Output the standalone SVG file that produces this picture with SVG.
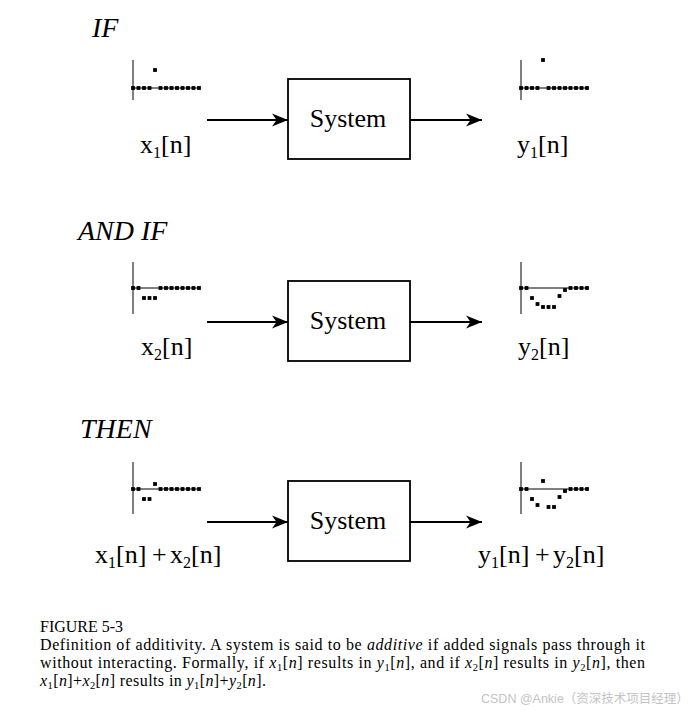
<svg xmlns="http://www.w3.org/2000/svg" width="693" height="713" viewBox="0 0 693 713">
<style>
.hd{font-family:"Liberation Serif","Times New Roman",serif;font-style:italic;font-size:28px;fill:#000}
.lbl{font-family:"Liberation Serif","Times New Roman",serif;font-size:26px;fill:#000}
.sub{font-size:16px}
.box{fill:#fff;stroke:#000;stroke-width:1.8}
.arr{stroke:#000;stroke-width:2;fill:none;marker-end:url(#ah)}
.ax{stroke:#000;stroke-width:1}
.d{fill:#000}
.cap{font-family:"Liberation Serif","Times New Roman",serif;font-size:16px;fill:#000}
.it{font-style:italic}
.cs{font-size:10.5px}
.wm{font-family:"Liberation Sans","Noto Sans CJK SC",sans-serif;font-size:12.5px;fill:#c4c4c4}
</style>
<defs>
<marker id="ah" markerUnits="userSpaceOnUse" markerWidth="16" markerHeight="13" viewBox="0 -6.5 16 13" refX="16" refY="0" orient="auto" overflow="visible">
<path d="M0,-6.5 L16,0 L0,6.5 L4.5,0 Z" fill="#000"/>
</marker>
</defs>

<text class="hd" x="92" y="37">IF</text>
<text class="hd" x="78" y="240">AND IF</text>
<text class="hd" x="80" y="438">THEN</text>

<!-- plots -->
<g id="plot-x1" transform="translate(133,88)">
<line class="ax" x1="0" y1="-28" x2="0" y2="12"/>
<line class="ax" x1="0" y1="0" x2="66" y2="0"/>
<g class="d">
<rect x="-1.9" y="-1.9" width="3.8" height="3.8"/><rect x="3.6" y="-1.9" width="3.8" height="3.8"/><rect x="9.1" y="-1.9" width="3.8" height="3.8"/><rect x="14.6" y="-1.9" width="3.8" height="3.8"/>
<rect x="20.1" y="-19.9" width="3.8" height="3.8"/>
<rect x="25.6" y="-1.9" width="3.8" height="3.8"/><rect x="31.1" y="-1.9" width="3.8" height="3.8"/><rect x="36.6" y="-1.9" width="3.8" height="3.8"/><rect x="42.1" y="-1.9" width="3.8" height="3.8"/><rect x="47.6" y="-1.9" width="3.8" height="3.8"/><rect x="53.1" y="-1.9" width="3.8" height="3.8"/><rect x="58.6" y="-1.9" width="3.8" height="3.8"/><rect x="64.1" y="-1.9" width="3.8" height="3.8"/>
</g>
</g>
<g id="plot-y1" transform="translate(521,88)">
<line class="ax" x1="0" y1="-28" x2="0" y2="12"/>
<line class="ax" x1="0" y1="0" x2="66" y2="0"/>
<g class="d">
<rect x="-1.9" y="-1.9" width="3.8" height="3.8"/><rect x="3.6" y="-1.9" width="3.8" height="3.8"/><rect x="9.1" y="-1.9" width="3.8" height="3.8"/><rect x="14.6" y="-1.9" width="3.8" height="3.8"/>
<rect x="20.1" y="-29.9" width="3.8" height="3.8"/>
<rect x="25.6" y="-1.9" width="3.8" height="3.8"/><rect x="31.1" y="-1.9" width="3.8" height="3.8"/><rect x="36.6" y="-1.9" width="3.8" height="3.8"/><rect x="42.1" y="-1.9" width="3.8" height="3.8"/><rect x="47.6" y="-1.9" width="3.8" height="3.8"/><rect x="53.1" y="-1.9" width="3.8" height="3.8"/><rect x="58.6" y="-1.9" width="3.8" height="3.8"/><rect x="64.1" y="-1.9" width="3.8" height="3.8"/>
</g>
</g>
<g id="plot-x2" transform="translate(133,288)">
<line class="ax" x1="0" y1="-26" x2="0" y2="26"/>
<line class="ax" x1="0" y1="0" x2="66" y2="0"/>
<g class="d">
<rect x="-1.9" y="-1.9" width="3.8" height="3.8"/><rect x="3.6" y="-1.9" width="3.8" height="3.8"/>
<rect x="9.1" y="8.1" width="3.8" height="3.8"/><rect x="14.6" y="8.1" width="3.8" height="3.8"/><rect x="20.1" y="8.1" width="3.8" height="3.8"/>
<rect x="25.6" y="-1.9" width="3.8" height="3.8"/><rect x="31.1" y="-1.9" width="3.8" height="3.8"/><rect x="36.6" y="-1.9" width="3.8" height="3.8"/><rect x="42.1" y="-1.9" width="3.8" height="3.8"/><rect x="47.6" y="-1.9" width="3.8" height="3.8"/><rect x="53.1" y="-1.9" width="3.8" height="3.8"/><rect x="58.6" y="-1.9" width="3.8" height="3.8"/><rect x="64.1" y="-1.9" width="3.8" height="3.8"/>
</g>
</g>
<g id="plot-y2" transform="translate(521,288)">
<line class="ax" x1="0" y1="-26" x2="0" y2="26"/>
<line class="ax" x1="0" y1="0" x2="66" y2="0"/>
<g class="d">
<rect x="-1.9" y="-1.9" width="3.8" height="3.8"/><rect x="3.6" y="-1.9" width="3.8" height="3.8"/>
<rect x="9.1" y="8.1" width="3.8" height="3.8"/><rect x="14.6" y="14.1" width="3.8" height="3.8"/>
<rect x="20.1" y="17.1" width="3.8" height="3.8"/><rect x="25.6" y="17.1" width="3.8" height="3.8"/><rect x="31.1" y="17.1" width="3.8" height="3.8"/>
<rect x="36.6" y="6.1" width="3.8" height="3.8"/><rect x="42.1" y="0.1" width="3.8" height="3.8"/>
<rect x="47.6" y="-1.9" width="3.8" height="3.8"/><rect x="53.1" y="-1.9" width="3.8" height="3.8"/><rect x="58.6" y="-1.9" width="3.8" height="3.8"/><rect x="64.1" y="-1.9" width="3.8" height="3.8"/>
</g>
</g>
<g id="plot-x3" transform="translate(133,489)">
<line class="ax" x1="0" y1="-27" x2="0" y2="25"/>
<line class="ax" x1="0" y1="0" x2="66" y2="0"/>
<g class="d">
<rect x="-1.9" y="-1.9" width="3.8" height="3.8"/><rect x="3.6" y="-1.9" width="3.8" height="3.8"/>
<rect x="9.1" y="8.1" width="3.8" height="3.8"/><rect x="14.6" y="8.1" width="3.8" height="3.8"/>
<rect x="20.1" y="-6.9" width="3.8" height="3.8"/>
<rect x="25.6" y="-1.9" width="3.8" height="3.8"/><rect x="31.1" y="-1.9" width="3.8" height="3.8"/><rect x="36.6" y="-1.9" width="3.8" height="3.8"/><rect x="42.1" y="-1.9" width="3.8" height="3.8"/><rect x="47.6" y="-1.9" width="3.8" height="3.8"/><rect x="53.1" y="-1.9" width="3.8" height="3.8"/><rect x="58.6" y="-1.9" width="3.8" height="3.8"/><rect x="64.1" y="-1.9" width="3.8" height="3.8"/>
</g>
</g>
<g id="plot-y3" transform="translate(521,489)">
<line class="ax" x1="0" y1="-27" x2="0" y2="25"/>
<line class="ax" x1="0" y1="0" x2="66" y2="0"/>
<g class="d">
<rect x="-1.9" y="-1.9" width="3.8" height="3.8"/><rect x="3.6" y="-1.9" width="3.8" height="3.8"/>
<rect x="9.1" y="8.1" width="3.8" height="3.8"/><rect x="14.6" y="14.1" width="3.8" height="3.8"/>
<rect x="20.1" y="-9.9" width="3.8" height="3.8"/>
<rect x="25.6" y="16.1" width="3.8" height="3.8"/><rect x="31.1" y="16.1" width="3.8" height="3.8"/>
<rect x="36.6" y="6.1" width="3.8" height="3.8"/><rect x="42.1" y="0.1" width="3.8" height="3.8"/>
<rect x="47.6" y="-1.9" width="3.8" height="3.8"/><rect x="53.1" y="-1.9" width="3.8" height="3.8"/><rect x="58.6" y="-1.9" width="3.8" height="3.8"/><rect x="64.1" y="-1.9" width="3.8" height="3.8"/>
</g>
</g>

<!-- system nodes -->
<g id="sys1"><rect class="box" x="288" y="79" width="122" height="80"/><text class="lbl" x="348" y="127" text-anchor="middle">System</text></g>
<g id="sys2"><rect class="box" x="288" y="281" width="122" height="80"/><text class="lbl" x="348" y="329" text-anchor="middle">System</text></g>
<g id="sys3"><rect class="box" x="288" y="481" width="122" height="80"/><text class="lbl" x="348" y="529" text-anchor="middle">System</text></g>

<!-- connectors -->
<g id="connectors">
<line class="arr" x1="207" y1="120" x2="288" y2="120"/>
<line class="arr" x1="410" y1="120" x2="482" y2="120"/>
<line class="arr" x1="207" y1="322" x2="288" y2="322"/>
<line class="arr" x1="410" y1="322" x2="482" y2="322"/>
<line class="arr" x1="207" y1="522" x2="288" y2="522"/>
<line class="arr" x1="410" y1="522" x2="482" y2="522"/>
</g>

<!-- signal labels -->
<text class="lbl" x="140" y="153">x<tspan class="sub" dy="5">1</tspan><tspan dy="-5">[n]</tspan></text>
<text class="lbl" x="517" y="153">y<tspan class="sub" dy="5">1</tspan><tspan dy="-5">[n]</tspan></text>
<text class="lbl" x="141" y="355">x<tspan class="sub" dy="5">2</tspan><tspan dy="-5">[n]</tspan></text>
<text class="lbl" x="518" y="355">y<tspan class="sub" dy="5">2</tspan><tspan dy="-5">[n]</tspan></text>
<text class="lbl" x="95" y="563">x<tspan class="sub" dy="5">1</tspan><tspan dy="-5">[n]</tspan><tspan x="152">+</tspan><tspan x="170">x</tspan><tspan class="sub" dy="5">2</tspan><tspan dy="-5">[n]</tspan></text>
<text class="lbl" x="478" y="563">y<tspan class="sub" dy="5">1</tspan><tspan dy="-5">[n]</tspan><tspan x="535">+</tspan><tspan x="553">y</tspan><tspan class="sub" dy="5">2</tspan><tspan dy="-5">[n]</tspan></text>

<!-- caption -->
<text class="cap" x="40" y="632">FIGURE 5-3</text>
<text class="cap" x="40" y="650" textLength="605" lengthAdjust="spacing">Definition of additivity. A system is said to be <tspan class="it">additive</tspan> if added signals pass through it</text>
<text class="cap" x="40" y="668" textLength="605" lengthAdjust="spacing">without interacting. Formally, if <tspan class="it">x</tspan><tspan class="cs" dy="3">1</tspan><tspan dy="-3">[</tspan><tspan class="it">n</tspan>] results in <tspan class="it">y</tspan><tspan class="cs" dy="3">1</tspan><tspan dy="-3">[</tspan><tspan class="it">n</tspan>], and if <tspan class="it">x</tspan><tspan class="cs" dy="3">2</tspan><tspan dy="-3">[</tspan><tspan class="it">n</tspan>] results in <tspan class="it">y</tspan><tspan class="cs" dy="3">2</tspan><tspan dy="-3">[</tspan><tspan class="it">n</tspan>], then</text>
<text class="cap" x="40" y="686" textLength="226" lengthAdjust="spacing"><tspan class="it">x</tspan><tspan class="cs" dy="3">1</tspan><tspan dy="-3">[</tspan><tspan class="it">n</tspan>]+<tspan class="it">x</tspan><tspan class="cs" dy="3">2</tspan><tspan dy="-3">[</tspan><tspan class="it">n</tspan>] results in <tspan class="it">y</tspan><tspan class="cs" dy="3">1</tspan><tspan dy="-3">[</tspan><tspan class="it">n</tspan>]+<tspan class="it">y</tspan><tspan class="cs" dy="3">2</tspan><tspan dy="-3">[</tspan><tspan class="it">n</tspan>].</text>

<text class="wm" x="481" y="703">CSDN @Ankie（资深技术项目经理）</text>
</svg>
